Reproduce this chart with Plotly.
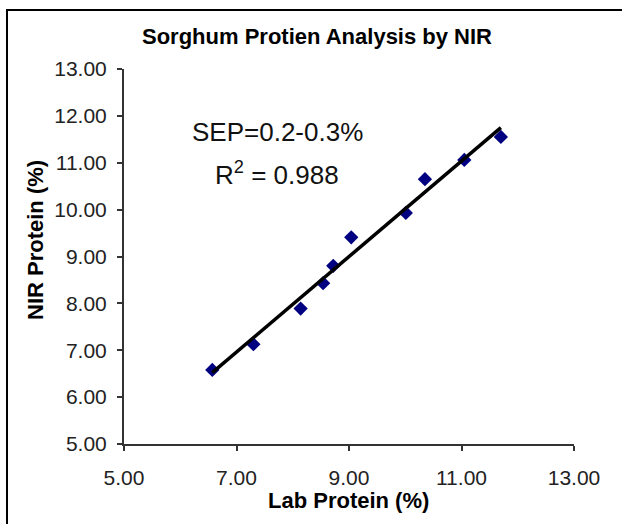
import numpy as np
import plotly.graph_objects as go

# Data
lab_protein = [6.57, 7.30, 8.14, 8.54, 8.72, 9.04, 10.01, 10.35, 11.05, 11.70]
nir_protein = [6.58, 7.13, 7.89, 8.43, 8.80, 9.41, 9.93, 10.65, 11.06, 11.55]
x_ticks = [5, 7, 9, 11, 13]
y_ticks = [5, 6, 7, 8, 9, 10, 11, 12, 13]
title_text = "Sorghum Protien Analysis by NIR"
x_title = "Lab Protein (%)"
y_title = "NIR Protein (%)"
sep_text = "SEP=0.2-0.3%"
r2_text = "R<sup>2</sup> = 0.988"

# Linear trendline (least squares, as the spreadsheet trendline)
slope, intercept = np.polyfit(lab_protein, nir_protein, 1)
trend_x = [min(lab_protein), max(lab_protein)]
trend_y = [slope * v + intercept for v in trend_x]

W, H = 622, 524
L, R, T, B = 124, 48, 69, 80
PW, PH = W - L - R, H - T - B


def px_to_paper_x(px):
    return (px - L) / PW


def px_to_paper_y(py):
    return (H - B - py) / PH


fig = go.Figure()
fig.add_trace(go.Scatter(
    x=lab_protein, y=nir_protein, mode="markers",
    marker=dict(symbol="diamond", size=11, color="#000080"),
    showlegend=False, hoverinfo="x+y"))
fig.add_trace(go.Scatter(
    x=trend_x, y=trend_y, mode="lines",
    line=dict(color="black", width=3.5),
    showlegend=False, hoverinfo="skip"))

font_family = "Arial, Liberation Sans, sans-serif"
axis_common = dict(
    range=[5, 13], showgrid=False, zeroline=False, showline=True,
    linecolor="#333333", linewidth=2,
    ticks="outside", ticklen=5, tickcolor="#333333", tickwidth=2,
    tickfont=dict(size=21, color="#222222"),
)

fig.update_layout(
    width=W, height=H,
    margin=dict(l=L, r=R, t=T, b=B, autoexpand=False),
    paper_bgcolor="white", plot_bgcolor="white",
    font=dict(family=font_family, color="black", size=21),
    title=dict(text="<b>" + title_text + "</b>", x=317 / W, xanchor="center",
               y=1 - 36 / H, yanchor="middle", font=dict(size=22, color="black")),
    xaxis=dict(tickvals=x_ticks, ticktext=[f"{v:.2f}" for v in x_ticks],
               ticklabelstandoff=9, **axis_common),
    yaxis=dict(tickvals=y_ticks, ticktext=[f"{v:.2f}" for v in y_ticks],
               ticklabelstandoff=6, **axis_common),
    annotations=[
        dict(x=px_to_paper_x(348), y=px_to_paper_y(500), xref="paper", yref="paper",
             text="<b>" + x_title + "</b>", showarrow=False,
             font=dict(size=22, color="black"), xanchor="center", yanchor="middle"),
        dict(x=px_to_paper_x(36), y=px_to_paper_y(240), xref="paper", yref="paper",
             text="<b>" + y_title + "</b>", showarrow=False, textangle=-90,
             font=dict(size=22, color="black"), xanchor="center", yanchor="middle"),
        dict(x=7.72, y=11.66, xref="x", yref="y", text=sep_text, showarrow=False,
             font=dict(size=26, color="#111111"), xanchor="center", yanchor="middle"),
        dict(x=7.72, y=10.78, xref="x", yref="y", text=r2_text, showarrow=False,
             font=dict(size=26, color="#111111"), xanchor="center", yanchor="middle"),
    ],
    shapes=[
        dict(type="rect", xref="paper", yref="paper",
             x0=px_to_paper_x(7), x1=px_to_paper_x(W + 20),
             y0=px_to_paper_y(H + 20), y1=px_to_paper_y(10),
             line=dict(color="black", width=2), fillcolor="rgba(0,0,0,0)", layer="above"),
    ],
)

fig.write_html("out.html", config={"displayModeBar": False},
               post_script="document.body.style.margin='0px';document.body.style.overflow='hidden';")
